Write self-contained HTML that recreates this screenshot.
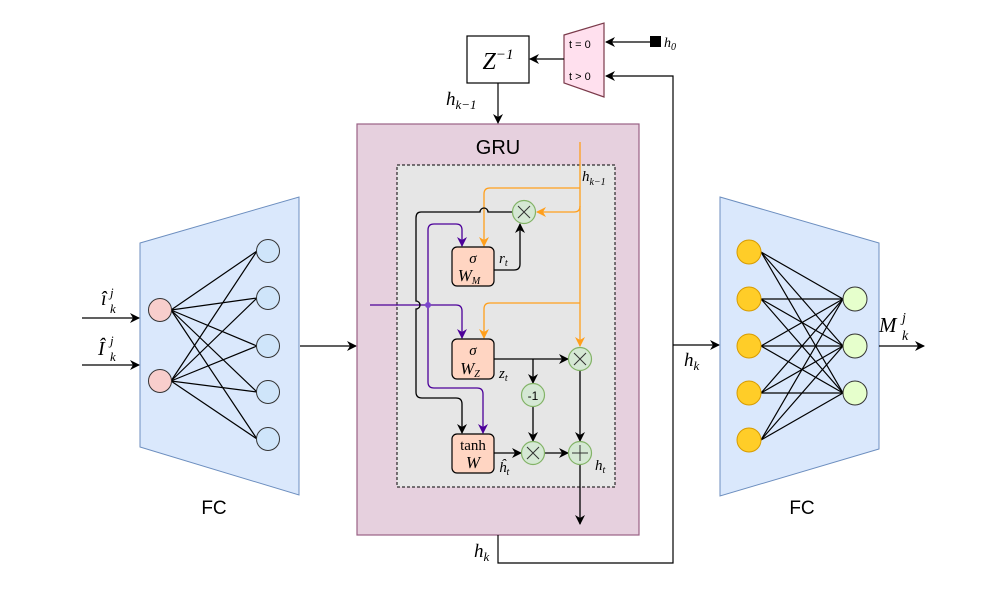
<!DOCTYPE html>
<html><head><meta charset="utf-8"><style>
html,body{margin:0;padding:0;background:#fff}
svg{display:block}
.m{font-family:"Liberation Serif",serif;font-style:italic}
.s{font-family:"Liberation Sans",sans-serif}
</style></head><body>
<svg width="997" height="598" viewBox="0 0 997 598" xmlns="http://www.w3.org/2000/svg">
<defs>
<marker id="ak" markerWidth="10" markerHeight="10" refX="9" refY="5" orient="auto" markerUnits="userSpaceOnUse"><path d="M0,0 L10,5 L0,10 L3,5 z" fill="#000"/></marker>
<marker id="ao" markerWidth="10" markerHeight="10" refX="9" refY="5" orient="auto" markerUnits="userSpaceOnUse"><path d="M0,0 L10,5 L0,10 L3,5 z" fill="#ff9f1c"/></marker>
<marker id="ap" markerWidth="10" markerHeight="10" refX="9" refY="5" orient="auto" markerUnits="userSpaceOnUse"><path d="M0,0 L10,5 L0,10 L3,5 z" fill="#4c0099"/></marker>
</defs>

<!-- Left FC -->
<polygon points="140,243 299,197 299,495 140,447" fill="#dae8fc" stroke="#6c8ebf" stroke-width="1"/>
<g stroke="#000" stroke-width="1.2">
<line x1="171" y1="310" x2="257" y2="251"/><line x1="171" y1="310" x2="257" y2="298"/><line x1="171" y1="310" x2="257" y2="346"/><line x1="171" y1="310" x2="257" y2="392"/><line x1="171" y1="310" x2="257" y2="439"/>
<line x1="171" y1="381" x2="257" y2="251"/><line x1="171" y1="381" x2="257" y2="298"/><line x1="171" y1="381" x2="257" y2="346"/><line x1="171" y1="381" x2="257" y2="392"/><line x1="171" y1="381" x2="257" y2="439"/>
</g>
<g stroke="#333" stroke-width="1">
<circle cx="160" cy="310" r="11.5" fill="#f8cecc"/><circle cx="160" cy="381" r="11.5" fill="#f8cecc"/>
<circle cx="268" cy="251" r="11.5" fill="#cfe5fa"/><circle cx="268" cy="298" r="11.5" fill="#cfe5fa"/><circle cx="268" cy="346" r="11.5" fill="#cfe5fa"/><circle cx="268" cy="392" r="11.5" fill="#cfe5fa"/><circle cx="268" cy="439" r="11.5" fill="#cfe5fa"/>
</g>
<line x1="82" y1="318" x2="139" y2="318" stroke="#000" stroke-width="1.2" marker-end="url(#ak)"/>
<line x1="82" y1="365" x2="139" y2="365" stroke="#000" stroke-width="1.2" marker-end="url(#ak)"/>
<text class="m" x="101" y="305" font-size="20">î</text>
<text class="m" x="110" y="297" font-size="13">j</text><text class="m" x="110" y="313" font-size="13">k</text>
<text class="m" x="98" y="355" font-size="20">Î</text>
<text class="m" x="110" y="345" font-size="13">j</text><text class="m" x="110" y="361" font-size="13">k</text>
<text class="s" x="214" y="514" font-size="19" text-anchor="middle">FC</text>
<line x1="300" y1="346" x2="356" y2="346" stroke="#000" stroke-width="1.2" marker-end="url(#ak)"/>

<!-- GRU -->
<rect x="357" y="124" width="282" height="411" fill="#e6d0de" stroke="#996185" stroke-width="1.2"/>
<text class="s" x="498" y="154" font-size="20" text-anchor="middle">GRU</text>
<rect x="397" y="165" width="218" height="322" fill="#e6e6e6" stroke="#000" stroke-width="1" stroke-dasharray="3,2"/>

<!-- orange -->
<g stroke="#ff9f1c" stroke-width="1.3" fill="none">
<line x1="580" y1="142" x2="580" y2="346" marker-end="url(#ao)"/>
<path d="M580,188 H490 Q484,188 484,194 V246" marker-end="url(#ao)"/>
<path d="M580,206 Q580,212 574,212 H537" marker-end="url(#ao)"/>
<path d="M580,303 H490 Q484,303 484,309 V338" marker-end="url(#ao)"/>
</g>
<text class="m" x="582" y="181" font-size="15">h<tspan font-size="10" dy="4">k−1</tspan></text>

<!-- purple -->
<g stroke="#4c0099" stroke-width="1.3" fill="none">
<line x1="370" y1="305" x2="428" y2="305"/>
<path d="M428,305 H456 Q462,305 462,311 V338" marker-end="url(#ap)"/>
<path d="M428,305 V230 Q428,224 434,224 H456 Q462,224 462,230 V246" marker-end="url(#ap)"/>
<path d="M428,305 V382 Q428,388 434,388 H477 Q483,388 483,394 V433" marker-end="url(#ap)"/>
</g>
<circle cx="428" cy="305" r="3" fill="#7a44cc"/>

<!-- black -->
<g stroke="#000" stroke-width="1.3" fill="none">
<path d="M513,212 H488 A4,4 0 0 0 480,212 H421 Q416,212 416,218 V301 A4,4 0 0 1 416,309 V392 Q416,398 422,398 H456 Q462,398 462,404 V433" marker-end="url(#ak)"/>
<path d="M494,270 H514 Q520,270 520,264 V224" marker-end="url(#ak)"/>
<line x1="494" y1="359" x2="568" y2="359" marker-end="url(#ak)"/>
<line x1="533" y1="359" x2="533" y2="383" marker-end="url(#ak)"/>
<line x1="533" y1="407" x2="533" y2="441" marker-end="url(#ak)"/>
<line x1="494" y1="453" x2="521" y2="453" marker-end="url(#ak)"/>
<line x1="545" y1="453" x2="568" y2="453" marker-end="url(#ak)"/>
<line x1="580" y1="371" x2="580" y2="441" marker-end="url(#ak)"/>
<line x1="580" y1="465" x2="580" y2="524" marker-end="url(#ak)"/>
</g>

<!-- op circles -->
<g stroke="#82b366" stroke-width="1.2" fill="#d5e8d4">
<circle cx="524" cy="212" r="11.5"/><circle cx="580" cy="359" r="11.5"/><circle cx="533" cy="395" r="11.5"/><circle cx="533" cy="453" r="11.5"/><circle cx="580" cy="453" r="11.5"/>
</g>
<g stroke="#333" stroke-width="1">
<path d="M518,206 L530,218 M530,206 L518,218"/><path d="M574,353 L586,365 M586,353 L574,365"/><path d="M527,447 L539,459 M539,447 L527,459"/><path d="M580,445 V461 M572,453 H588"/>
</g>
<text class="s" x="533" y="400" font-size="12" text-anchor="middle">-1</text>

<!-- boxes -->
<g stroke="#000" stroke-width="1.2" fill="#ffd5c2">
<rect x="452" y="247" width="42" height="39" rx="5"/><rect x="452" y="339" width="42" height="40" rx="5"/><rect x="452" y="434" width="42" height="39" rx="5"/>
</g>
<text class="m" x="473" y="263" font-size="15" text-anchor="middle">σ</text>
<text class="m" x="469" y="281" font-size="17" text-anchor="middle">W<tspan font-size="10" dy="3">M</tspan></text>
<text class="m" x="473" y="355" font-size="15" text-anchor="middle">σ</text>
<text class="m" x="470" y="374" font-size="17" text-anchor="middle">W<tspan font-size="10" dy="3">Z</tspan></text>
<text x="473" y="450" font-size="15" text-anchor="middle" font-family="Liberation Serif,serif">tanh</text>
<text class="m" x="473" y="468" font-size="17" text-anchor="middle">W</text>
<text class="m" x="499" y="263" font-size="15">r<tspan font-size="10" dy="3">t</tspan></text>
<text class="m" x="499" y="378" font-size="15">z<tspan font-size="10" dy="3">t</tspan></text>
<text class="m" x="499" y="472" font-size="15">ĥ<tspan font-size="10" dy="3">t</tspan></text>
<text class="m" x="595" y="470" font-size="15">h<tspan font-size="10" dy="3">t</tspan></text>

<!-- Z^-1 and mux -->
<rect x="467" y="36" width="62" height="47" fill="#fff" stroke="#000" stroke-width="1.2"/>
<text class="m" x="498" y="69" font-size="24" text-anchor="middle">Z<tspan font-size="15" dy="-10">−1</tspan></text>
<polygon points="564,35 604,23 604,97 564,83" fill="#ffe0ee" stroke="#7a3a4a" stroke-width="1.2"/>
<text class="s" x="569" y="48" font-size="11">t = 0</text>
<text class="s" x="569" y="80" font-size="11">t &gt; 0</text>
<line x1="564" y1="59" x2="530" y2="59" stroke="#000" stroke-width="1.2" marker-end="url(#ak)"/>
<rect x="650" y="36" width="11" height="11" fill="#000"/>
<text class="m" x="664" y="47" font-size="14">h<tspan font-size="10" dy="3">0</tspan></text>
<line x1="650" y1="42" x2="606" y2="42" stroke="#000" stroke-width="1.2" marker-end="url(#ak)"/>
<line x1="498" y1="83" x2="498" y2="123" stroke="#000" stroke-width="1.2" marker-end="url(#ak)"/>
<text class="m" x="446" y="105" font-size="19">h<tspan font-size="13" dy="4">k−1</tspan></text>

<!-- feedback -->
<path d="M498,535 V563 H673 V76 H606" fill="none" stroke="#000" stroke-width="1.2" marker-end="url(#ak)"/>
<text class="m" x="474" y="557" font-size="19">h<tspan font-size="13" dy="4">k</tspan></text>
<line x1="673" y1="345" x2="719" y2="345" stroke="#000" stroke-width="1.2" marker-end="url(#ak)"/>
<text class="m" x="684" y="366" font-size="19">h<tspan font-size="13" dy="4">k</tspan></text>

<!-- Right FC -->
<polygon points="720,197 879,243 879,449 720,496" fill="#dae8fc" stroke="#6c8ebf" stroke-width="1"/>
<g stroke="#000" stroke-width="1.2">
<line x1="761" y1="252" x2="843" y2="299"/><line x1="761" y1="252" x2="843" y2="346"/><line x1="761" y1="252" x2="843" y2="393"/>
<line x1="761" y1="299" x2="843" y2="299"/><line x1="761" y1="299" x2="843" y2="346"/><line x1="761" y1="299" x2="843" y2="393"/>
<line x1="761" y1="346" x2="843" y2="299"/><line x1="761" y1="346" x2="843" y2="346"/><line x1="761" y1="346" x2="843" y2="393"/>
<line x1="761" y1="393" x2="843" y2="299"/><line x1="761" y1="393" x2="843" y2="346"/><line x1="761" y1="393" x2="843" y2="393"/>
<line x1="761" y1="440" x2="843" y2="299"/><line x1="761" y1="440" x2="843" y2="346"/><line x1="761" y1="440" x2="843" y2="393"/>
</g>
<g stroke-width="1">
<circle cx="749" cy="252" r="12" fill="#ffcd28" stroke="#d79b00"/><circle cx="749" cy="299" r="12" fill="#ffcd28" stroke="#d79b00"/><circle cx="749" cy="346" r="12" fill="#ffcd28" stroke="#d79b00"/><circle cx="749" cy="393" r="12" fill="#ffcd28" stroke="#d79b00"/><circle cx="749" cy="440" r="12" fill="#ffcd28" stroke="#d79b00"/>
<circle cx="855" cy="299" r="12" fill="#e6ffcc" stroke="#333"/><circle cx="855" cy="346" r="12" fill="#e6ffcc" stroke="#333"/><circle cx="855" cy="393" r="12" fill="#e6ffcc" stroke="#333"/>
</g>
<line x1="879" y1="346" x2="924" y2="346" stroke="#000" stroke-width="1.2" marker-end="url(#ak)"/>
<text class="m" x="879" y="332" font-size="21">M</text>
<text class="m" x="902" y="322" font-size="14">j</text><text class="m" x="902" y="340" font-size="14">k</text>
<text class="s" x="802" y="514" font-size="19" text-anchor="middle">FC</text>
</svg>
</body></html>
